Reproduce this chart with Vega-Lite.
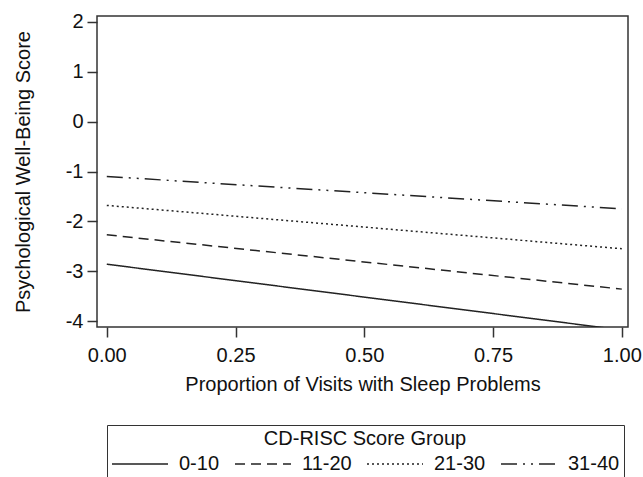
{
  "$schema": "https://vega.github.io/schema/vega-lite/v6.json",
  "width": 531,
  "height": 311,
  "autosize": {"type": "none"},
  "padding": {"left": 97, "top": 16, "right": 15, "bottom": 150},
  "background": "white",
  "config": {
    "font": "Liberation Sans",
    "view": {"stroke": "#333", "strokeWidth": 1.5},
    "axis": {"grid": false, "domain": false, "tickColor": "#333", "tickWidth": 1.5, "tickSize": 10, "labelFontSize": 20, "labelColor": "#111", "titleFontSize": 20, "titleFontWeight": "normal", "titleColor": "#111", "labelPadding": 4}
  },
  "data": {"values": [
    {"prop": 0, "score": -2.86, "group": "0-10"},
    {"prop": 1, "score": -4.18, "group": "0-10"},
    {"prop": 0, "score": -2.27, "group": "11-20"},
    {"prop": 1, "score": -3.36, "group": "11-20"},
    {"prop": 0, "score": -1.68, "group": "21-30"},
    {"prop": 1, "score": -2.55, "group": "21-30"},
    {"prop": 0, "score": -1.1, "group": "31-40"},
    {"prop": 1, "score": -1.75, "group": "31-40"}
  ]},
  "mark": {"type": "line", "clip": true, "color": "#222", "strokeWidth": 1.5},
  "encoding": {
    "x": {"field": "prop", "type": "quantitative", "title": "Proportion of Visits with Sleep Problems",
      "scale": {"domain": [-0.019, 1.012], "nice": false, "zero": false},
      "axis": {"values": [0, 0.25, 0.5, 0.75, 1], "format": ".2f", "labelPadding": 8, "titlePadding": 9}},
    "y": {"field": "score", "type": "quantitative", "title": "Psychological Well-Being Score",
      "scale": {"domain": [-4.12, 2.12], "nice": false, "zero": false},
      "axis": {"values": [-4, -3, -2, -1, 0, 1, 2], "labelExpr": "replace(datum.label, '\u2212', '-')", "titlePadding": 32}},
    "strokeDash": {"field": "group", "type": "nominal", "title": "CD-RISC Score Group",
      "scale": {"domain": ["0-10", "11-20", "21-30", "31-40"], "range": [[1, 0], [10, 6], [2, 3], [16, 6, 2, 6, 2, 6]]},
      "legend": {"orient": "none", "legendX": 10, "legendY": 409, "direction": "horizontal",
        "titleAnchor": "middle", "titleFontSize": 20, "titleFontWeight": "normal", "titleColor": "#111", "titleLimit": 500,
        "labelFontSize": 20, "labelColor": "#111", "symbolSize": 3136, "symbolStrokeWidth": 1.5, "symbolStrokeColor": "#222",
        "symbolType": "stroke", "labelOffset": 10, "columnPadding": 12, "strokeColor": "#333", "padding": 4, "titlePadding": -14}}
  }
}
